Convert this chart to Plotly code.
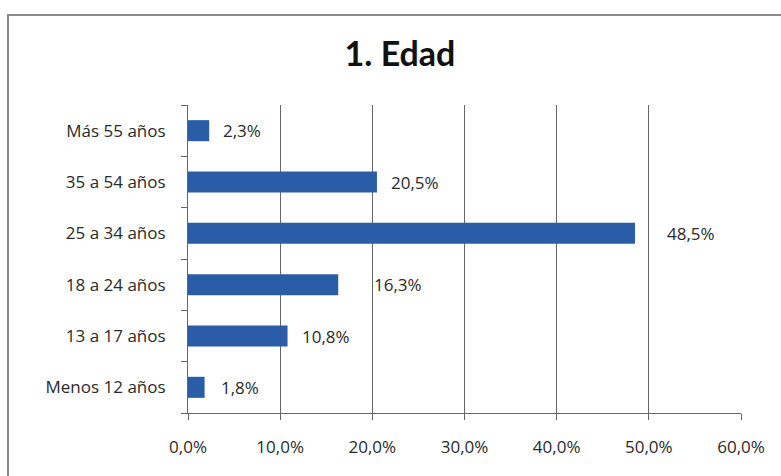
import plotly.graph_objects as go

# Age groups, bottom to top
categories = ["Menos 12 años", "13 a 17 años", "18 a 24 años",
              "25 a 34 años", "35 a 54 años", "Más 55 años"]
values = [1.8, 10.8, 16.3, 48.5, 20.5, 2.3]
x_ticks = [0, 10, 20, 30, 40, 50, 60]
x_tick_labels = ["0,0%", "10,0%", "20,0%", "30,0%", "40,0%", "50,0%", "60,0%"]

# horizontal pixel gap between bar end and its value label
label_gaps = [14, 12, 34, 30, 12, 12]

W, H = 781, 476
L, R, T, B = 188, 40, 105, 63
BAR = "#2a5ca8"
TXT = "#2a2a2a"
FONT = "Open Sans"
FS = 17

fig = go.Figure(go.Bar(
    x=values, y=categories, orientation="h",
    marker=dict(color=BAR, line=dict(width=0)),
    hoverinfo="skip",
))

for cat, v, gap in zip(categories, values, label_gaps):
    fig.add_annotation(
        x=v, y=cat, xref="x", yref="y",
        text=f"{v:.1f}".replace(".", ",") + "%",
        showarrow=False, xanchor="left", xshift=gap,
        font=dict(family=FONT, size=FS, color=TXT),
    )

pw = W - L - R
ph = H - T - B
def px_x(p):
    return (p - L) / pw
def px_y(p):
    return 1 - (p - T) / ph

# chart frame (top and left edges)
fig.add_shape(type="line", xref="paper", yref="paper",
              x0=px_x(7), x1=px_x(790), y0=px_y(15), y1=px_y(15),
              line=dict(color="#8a8a8a", width=2))
fig.add_shape(type="line", xref="paper", yref="paper",
              x0=px_x(8), x1=px_x(8), y0=px_y(15), y1=px_y(490),
              line=dict(color="#8a8a8a", width=2))

fig.update_layout(
    width=W, height=H,
    margin=dict(l=L, r=R, t=T, b=B),
    paper_bgcolor="white", plot_bgcolor="white",
    separators=",.",
    bargap=0.59,
    showlegend=False,
    title=dict(text="<b>1. Edad</b>", x=400 / W, xref="container", xanchor="center",
               y=1 - 54 / H, yref="container", yanchor="middle",
               font=dict(family="Lato", size=34, color="#111111")),
    font=dict(family=FONT, size=FS, color=TXT),
)

fig.update_xaxes(
    range=[0, 60], tickvals=x_ticks, ticktext=x_tick_labels,
    showgrid=True, gridcolor="#666666", gridwidth=1,
    showline=True, linecolor="#666666", linewidth=1,
    ticks="outside", ticklen=6, tickcolor="#666666",
    ticklabelstandoff=13, zeroline=False,
    tickfont=dict(family=FONT, size=FS, color=TXT),
)
fig.update_yaxes(
    categoryorder="array", categoryarray=categories,
    showline=True, linecolor="#666666", linewidth=1,
    ticks="outside", ticklen=6, tickcolor="#666666", tickson="boundaries",
    ticklabelstandoff=18, showgrid=False,
    tickfont=dict(family=FONT, size=FS, color=TXT),
)

fig.write_html("out.html")
